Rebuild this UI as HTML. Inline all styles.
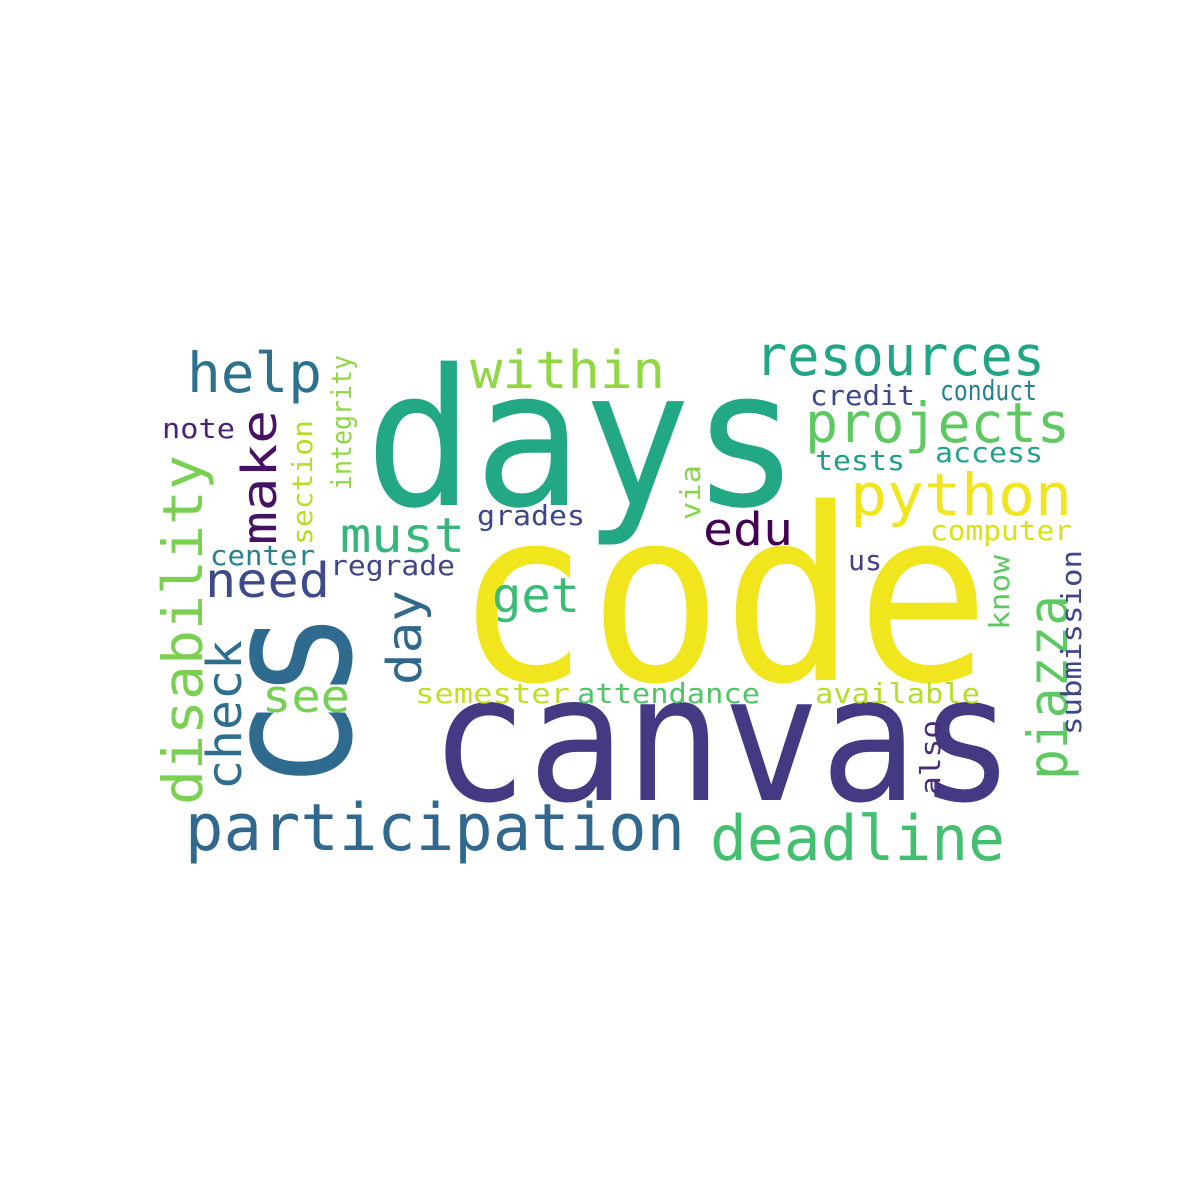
<!DOCTYPE html>
<html><head><meta charset="utf-8"><style>
html,body{margin:0;padding:0;background:#fff;width:1200px;height:1200px;overflow:hidden}
svg text{font-family:"DejaVu Sans Mono","Liberation Mono",monospace}
</style></head><body>
<svg id="cloud" width="1200" height="1200" xmlns="http://www.w3.org/2000/svg">
<rect width="1200" height="1200" fill="#fff"/>
</svg>
<script>
const words=["days","code","canvas","cs","participation","deadline","resources","within","help","projects","python","edu","must","get","need","see","credit","conduct","access","tests","computer","grades","note","center","regrade","us","semester","attendance","available","disability","make","check","day","integrity","section","via","piazza","know","submission","also"];
const sizes=[190,240,175,180,65,62,55,52,55,55,58,45,48,48,48,45,28,28,28,28,28,28,28,28,28,28,28,28,28,55,48,48,48,28,28,28,55,28,28,28];
const colors=["#22a884","#f1e51d","#443983","#2f6b8e","#31688e","#44bf70","#21a685","#90d743","#2c728e","#5ec962","#f1e51d","#440154","#35b779","#3bbb75","#3e4a89","#75d054","#3e4989","#26828e","#25a18e","#1f9e89","#d8e219","#3f4788","#482475","#26828e","#414487","#433e85","#c2df23","#52c569","#b5de2b","#7ad151","#471164","#2e6e8e","#31688e","#90d743","#b5de2b","#86d549","#5ec962","#5ec962","#404688","#472d7b"];
// layout: [x, y, length, rotated]
const layout=[[365,505,435,0],[455,680,535,0],[430,800,585,0],[350,790,180,1],[185,850,500,0],[710,860,295,0],[755,375,290,0],[470,388,195,0],[187,392,135,0],[805,442,265,0],[850,515,222,0],[703,545,90,0],[340,552,125,0],[492,612,88,0],[205,597,125,0],[262,712,88,0],[810,405,105,0],[940,400,97,0],[935,462,108,0],[815,470,90,0],[930,540,142,0],[477,525,108,0],[162,438,73,0],[210,565,105,0],[330,575,125,0],[848,570,34,0],[415,703,155,0],[577,703,183,0],[815,703,165,0],[202,805,350,1],[276,545,135,1],[241,790,150,1],[421,685,95,1],[351,490,135,1],[312,545,125,1],[700,520,55,1],[1067,780,185,1],[1009,630,75,1],[1081,735,185,1],[940,795,75,1]];
const svg=document.getElementById('cloud');
const NS='http://www.w3.org/2000/svg';
words.forEach((w,i)=>{
  const [x,y,len,rot]=layout[i];
  const t=document.createElementNS(NS,'text');
  
  
  t.setAttribute('x',x);t.setAttribute('y',y);
  t.setAttribute('font-size',sizes[i]);
  t.setAttribute('fill',colors[i]);
  t.setAttribute('textLength',len);
  t.setAttribute('lengthAdjust','spacingAndGlyphs');
  if(rot)t.setAttribute('transform','rotate(-90 '+x+' '+y+')');
  t.textContent=w;
  svg.appendChild(t);
});
</script>
</body></html>
